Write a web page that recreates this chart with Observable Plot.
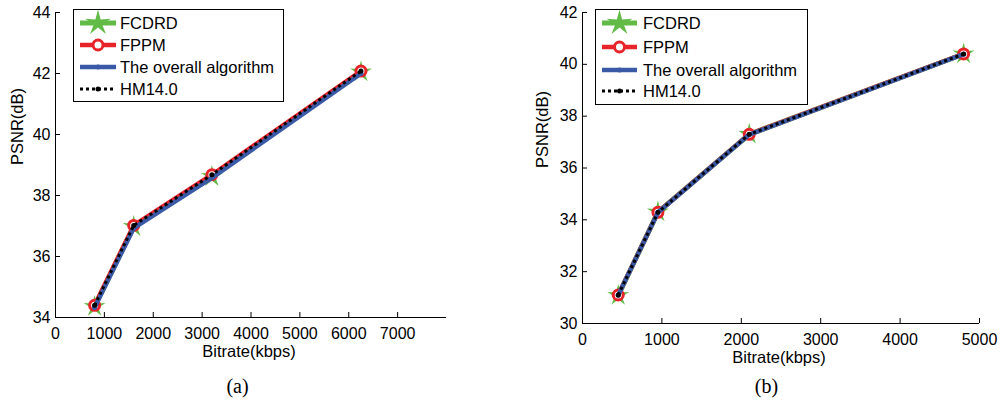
<!DOCTYPE html>
<html>
<head>
<meta charset="utf-8">
<script src="https://cdn.jsdelivr.net/npm/d3@7"></script>
<script src="https://cdn.jsdelivr.net/npm/@observablehq/plot@0.6"></script>
<style>
  body { margin: 0; background: #fff; }
  #wrap { position: relative; width: 1006px; height: 402px; overflow: hidden; background: #fff; }
  .panel { position: absolute; top: 0; }
  .legend { position: absolute; }
</style>
</head>
<body>
<div id="wrap"></div>
<script>
// ---------- data ----------
const seriesNames = ["FCDRD", "FPPM", "The overall algorithm", "HM14.0"];
const seriesColors = ["#62bb46", "#e8242b", "#3a5aa8", "#000000"];

// panel (a)
const bitrateA = [800, 1600, 3200, 6250];
const fcdrdA   = [34.36, 36.98, 38.62, 42.05];
const fppmA    = [34.40, 37.02, 38.68, 42.08];
const overallA = [34.33, 36.93, 38.58, 42.00];
const hmA      = [34.40, 37.02, 38.68, 42.08];
const xTicksA  = [0, 1000, 2000, 3000, 4000, 5000, 6000, 7000];
const yTicksA  = [34, 36, 38, 40, 42, 44];

// panel (b)
const bitrateB = [450, 950, 2100, 4800];
const fcdrdB   = [31.08, 34.30, 37.30, 40.40];
const fppmB    = [31.10, 34.29, 37.30, 40.40];
const overallB = [31.09, 34.28, 37.29, 40.39];
const hmB      = [31.10, 34.29, 37.30, 40.40];
const xTicksB  = [0, 1000, 2000, 3000, 4000, 5000];
const yTicksB  = [30, 32, 34, 36, 38, 40, 42];

const xLabel = "Bitrate(kbps)";
const yLabel = "PSNR(dB)";
const captions = ["(a)", "(b)"];

// ---------- helpers ----------
const starSymbol = {
  draw(context, size) {
    const R = Math.sqrt(size / Math.PI);
    const r = R * 0.33;
    for (let i = 0; i < 10; i++) {
      const a = -Math.PI / 2 + i * Math.PI / 5;
      const rr = i % 2 === 0 ? R : r;
      const x = rr * Math.cos(a), y = rr * Math.sin(a);
      if (i === 0) context.moveTo(x, y); else context.lineTo(x, y);
    }
    context.closePath();
  }
};

function buildRows(bitrate, arrays) {
  return bitrate.map((b, i) => ({
    bitrate: b, fcdrd: arrays[0][i], fppm: arrays[1][i], overall: arrays[2][i], hm: arrays[3][i]
  }));
}

function makePanel(cfg) {
  const rows = buildRows(cfg.bitrate, cfg.series);
  const fontFamily = '"Liberation Sans", Arial, Helvetica, sans-serif';
  const [x0, x1] = cfg.xDomain, [y0, y1] = cfg.yDomain;
  const fw = cfg.width - cfg.marginLeft - cfg.marginRight;
  const fh = 402 - cfg.marginTop - cfg.marginBottom;
  const tickLenX = 5 * (x1 - x0) / fw;   // 5px expressed in data units
  const tickLenY = 5 * (y1 - y0) / fh;
  return Plot.plot({
    width: cfg.width,
    height: 402,
    marginLeft: cfg.marginLeft,
    marginRight: cfg.marginRight,
    marginTop: cfg.marginTop,
    marginBottom: cfg.marginBottom,
    style: { fontFamily, fontSize: "16px", color: "#000", background: "transparent", overflow: "visible" },
    x: { domain: cfg.xDomain },
    y: { domain: cfg.yDomain },
    marks: [
      Plot.axisX({ ticks: cfg.xTicks, tickSize: 0, tickPadding: 10, label: null, tickFormat: d => String(d), fontSize: 16 }),
      Plot.axisY({ ticks: cfg.yTicks, tickSize: 0, tickPadding: 5, label: null, tickFormat: d => String(d), fontSize: 16 }),
      // inward tick marks
      Plot.ruleX(cfg.xTicks, { x: d => d, y1: y0, y2: y0 + tickLenY, stroke: "#000", strokeWidth: 1 }),
      Plot.ruleY(cfg.yTicks, { y: d => d, x1: x0, x2: x0 + tickLenX, stroke: "#000", strokeWidth: 1 }),
      Plot.ruleY([y0], { stroke: "#000", strokeWidth: 1 }),
      Plot.ruleX([x0], { stroke: "#000", strokeWidth: 1 }),
      // FCDRD
      Plot.line(rows, { x: "bitrate", y: "fcdrd", stroke: seriesColors[0], strokeWidth: 5 }),
      Plot.dot(rows, { x: "bitrate", y: "fcdrd", symbol: starSymbol, r: 11.5, fill: seriesColors[0], stroke: "none" }),
      // FPPM
      Plot.line(rows, { x: "bitrate", y: "fppm", stroke: seriesColors[1], strokeWidth: 4.5 }),
      Plot.dot(rows, { x: "bitrate", y: "fppm", r: 5, fill: "#fff", stroke: seriesColors[1], strokeWidth: 3 }),
      // overall
      Plot.line(rows, { x: "bitrate", y: "overall", stroke: seriesColors[2], strokeWidth: 4.5 }),
      Plot.dot(rows, { x: "bitrate", y: "overall", r: 2.5, fill: seriesColors[2], stroke: "none" }),
      // HM14.0
      Plot.line(rows, { x: "bitrate", y: "hm", stroke: seriesColors[3], strokeWidth: 3, strokeDasharray: "3,3", strokeLinecap: "butt" }),
      Plot.dot(rows, { x: "bitrate", y: "hm", r: 2.5, fill: seriesColors[3], stroke: "none" }),
      // labels
      Plot.text([xLabel], { text: d => d, frameAnchor: "bottom", dy: cfg.xLabelDy, dx: cfg.xLabelDx, fontSize: 16.5, fill: "#000" }),
      Plot.text([yLabel], { text: d => d, frameAnchor: "left", rotate: -90, dx: cfg.yLabelDx, fontSize: 16.5, fill: "#000" }),
      Plot.text([cfg.caption], { text: d => d, frameAnchor: "bottom", dy: cfg.captionDy, dx: cfg.captionDx, fontSize: 20, fontFamily: '"Liberation Serif", "Times New Roman", serif', fill: "#000" })
    ]
  });
}

function makeLegend(cfg) {
  const ns = "http://www.w3.org/2000/svg";
  const svg = document.createElementNS(ns, "svg");
  svg.setAttribute("width", cfg.w);
  svg.setAttribute("height", cfg.h);
  svg.setAttribute("class", "legend");
  svg.style.left = cfg.left + "px";
  svg.style.top = cfg.top + "px";
  const el = (tag, attrs) => { const e = document.createElementNS(ns, tag); for (const k in attrs) e.setAttribute(k, attrs[k]); svg.appendChild(e); return e; };
  el("rect", { x: 0.5, y: 0.5, width: cfg.w - 1, height: cfg.h - 1, fill: "#fff", stroke: "#000", "stroke-width": 1 });
  seriesNames.forEach((name, i) => {
    const y = cfg.rows[i];
    const x1 = cfg.x1, x2 = cfg.x2, xm = (x1 + x2) / 2;
    if (i === 0) {
      el("line", { x1, x2, y1: y, y2: y, stroke: seriesColors[0], "stroke-width": 5 });
      const p = d3.path(); starSymbol.draw(p, Math.PI * 13.5 * 13.5);
      el("path", { d: p.toString(), transform: `translate(${xm},${y})`, fill: seriesColors[0] });
    } else if (i === 1) {
      el("line", { x1, x2, y1: y, y2: y, stroke: seriesColors[1], "stroke-width": 4.5 });
      el("circle", { cx: xm, cy: y, r: 5, fill: "#fff", stroke: seriesColors[1], "stroke-width": 3 });
    } else if (i === 2) {
      el("line", { x1, x2, y1: y, y2: y, stroke: seriesColors[2], "stroke-width": 4.5 });
      el("circle", { cx: xm, cy: y, r: 2.5, fill: seriesColors[2] });
    } else {
      el("line", { x1, x2, y1: y, y2: y, stroke: "#000", "stroke-width": 3, "stroke-dasharray": "3,3" });
      el("circle", { cx: xm, cy: y, r: 2.5, fill: "#000" });
    }
    const t = el("text", { x: cfg.tx, y: y, "dominant-baseline": "central", "font-family": '"Liberation Sans", Arial, sans-serif', "font-size": "16.5px", fill: "#000" });
    t.textContent = name;
  });
  return svg;
}

const wrap = document.getElementById("wrap");

const pa = makePanel({
  width: 500, marginLeft: 55, marginRight: 54, marginTop: 12, marginBottom: 85,
  xDomain: [0, 8000], yDomain: [34, 44], xTicks: xTicksA, yTicks: yTicksA,
  bitrate: bitrateA, series: [fcdrdA, fppmA, overallA, hmA],
  xLabelDy: 39, xLabelDx: -2, yLabelDx: -38, caption: captions[0], captionDy: 75, captionDx: -13.5
});
pa.classList.add("panel"); pa.style.left = "0px";
wrap.appendChild(pa);

const pb = makePanel({
  width: 486, marginLeft: 62, marginRight: 27, marginTop: 12, marginBottom: 79,
  xDomain: [0, 5000], yDomain: [30, 42], xTicks: xTicksB, yTicks: yTicksB,
  bitrate: bitrateB, series: [fcdrdB, fppmB, overallB, hmB],
  xLabelDy: 39, xLabelDx: -2, yLabelDx: -40, caption: captions[1], captionDy: 69, captionDx: -14.5
});
pb.classList.add("panel"); pb.style.left = "520px";
wrap.appendChild(pb);

wrap.appendChild(makeLegend({ left: 73, top: 9, w: 211, h: 93, rows: [14, 36, 58, 80], x1: 7, x2: 43, tx: 47 }));
wrap.appendChild(makeLegend({ left: 595, top: 9, w: 213, h: 96, rows: [14, 38, 61, 82], x1: 7, x2: 42, tx: 48 }));
</script>
</body>
</html>
